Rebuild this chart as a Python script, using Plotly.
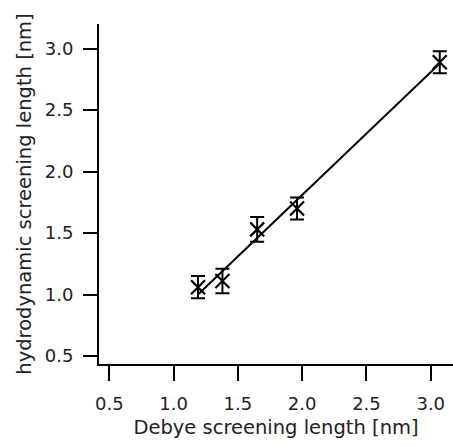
import plotly.graph_objects as go

# Data
debye = [1.19, 1.38, 1.65, 1.96, 3.07]
hydro = [1.06, 1.11, 1.53, 1.70, 2.89]
hydro_err = [0.09, 0.10, 0.10, 0.09, 0.09]
fit_x = [1.19, 3.07]
fit_y = [1.00, 2.88]
tick_vals = [0.5, 1.0, 1.5, 2.0, 2.5, 3.0]
tick_text = ["0.5", "1.0", "1.5", "2.0", "2.5", "3.0"]

FONT = "DejaVu Sans"
TXT = "#222"

fig = go.Figure()
fig.add_trace(go.Scatter(
    x=fit_x, y=fit_y, mode="lines",
    line=dict(color="black", width=2), showlegend=False, hoverinfo="skip"))
fig.add_trace(go.Scatter(
    x=debye, y=hydro, mode="markers",
    marker=dict(symbol="x-thin-open", size=14, color="black",
                line=dict(color="black", width=2.2)),
    error_y=dict(type="data", array=hydro_err, visible=True,
                 color="black", thickness=2, width=7),
    showlegend=False))

axis_common = dict(
    showline=True, linecolor="black", linewidth=2,
    ticks="outside", tickcolor="black", tickwidth=2,
    showgrid=False, zeroline=False, automargin=False,
    tickvals=tick_vals, ticktext=tick_text,
    tickfont=dict(family=FONT, size=18, color=TXT),
)

fig.update_layout(
    width=453, height=447,
    margin=dict(l=99, r=0, t=24, b=83),
    paper_bgcolor="white", plot_bgcolor="white",
    font=dict(family=FONT, color=TXT),
    xaxis=dict(**axis_common, range=[0.42, 3.173], ticklen=15,
               ticklabelstandoff=7,
               title=dict(text="Debye screening length [nm]",
                          font=dict(family=FONT, size=19.5, color=TXT),
                          standoff=8)),
    yaxis=dict(**axis_common, range=[0.435, 3.201], ticklen=14,
               ticklabelstandoff=6,
               title=dict(text="hydrodynamic screening length [nm]",
                          font=dict(family=FONT, size=19.5, color=TXT),
                          standoff=8)),
)

fig.write_html("out.html")
